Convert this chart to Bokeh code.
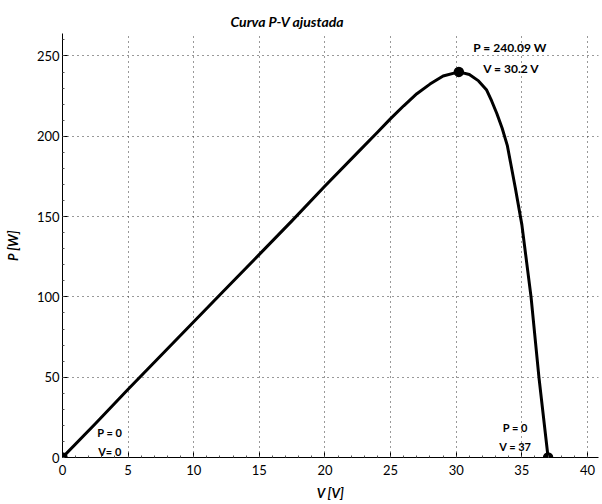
from bokeh.plotting import figure
from bokeh.models import Range1d, Label, FixedTicker
from bokeh.embed import file_html
from bokeh.resources import INLINE

# ---- data ----
V = [0, 2.5, 5, 7.5, 10, 12.5, 15, 17.5, 20, 22.5, 24, 25, 26, 27, 28, 29,
     30.2, 31, 31.7, 32.3, 32.7, 33.1, 33.5, 33.9, 34.5, 35, 35.7, 36.3, 37]
P = [0, 21, 42.5, 63.5, 84.5, 105.5, 126.5, 147.5, 169, 190, 202.5, 211, 219, 226.5, 232.5, 237.5,
     240.09, 238.5, 234.5, 229, 222, 214, 205, 194, 168, 145, 100, 50, 0]

mark_V = [0, 30.2, 37]
mark_P = [0, 240.09, 0]

x_ticks = [0, 5, 10, 15, 20, 25, 30, 35, 40]
y_ticks = [0, 50, 100, 150, 200, 250]

FONT = "Lato"

p = figure(width=600, height=503, output_backend="svg", toolbar_location=None,
           x_range=Range1d(0, 40.84), y_range=Range1d(0, 264),
           min_border_left=62, min_border_right=2, min_border_top=33,
           min_border_bottom=46)
p.outline_line_color = None
p.background_fill_color = "white"
p.border_fill_color = "white"

p.title.text = "Curva P-V ajustada"
p.title.text_font = FONT
p.title.text_font_style = "bold italic"
p.title.text_font_size = "14px"
p.title.text_color = "black"
p.title.align = "left"
p.title.offset = 168
p.title.standoff = 7

for ax in (p.xaxis[0], p.yaxis[0]):
    ax.axis_line_color = "black"
    ax.axis_line_width = 1
    ax.major_tick_in = 5
    ax.major_tick_out = 0
    ax.minor_tick_in = 2
    ax.minor_tick_out = 0
    ax.major_tick_line_color = "black"
    ax.minor_tick_line_color = "#555555"
    ax.major_label_text_font = FONT
    ax.major_label_text_font_size = "13px"
    ax.major_label_text_color = "black"
    ax.axis_label_text_font = FONT
    ax.axis_label_text_font_style = "bold italic"
    ax.axis_label_text_font_size = "13px"
    ax.axis_label_text_color = "black"

p.xaxis.ticker = FixedTicker(ticks=x_ticks, minor_ticks=[i * 1.0 for i in range(0, 41)])
p.yaxis.ticker = FixedTicker(ticks=y_ticks, minor_ticks=[i * 10.0 for i in range(0, 27)])
p.xaxis.axis_label = "V [V]"
p.yaxis.axis_label = "P [W]"
p.xaxis.major_label_standoff = 7
p.xaxis.axis_label_standoff = 7
p.yaxis.major_label_standoff = 3
p.yaxis.axis_label_standoff = 13

p.grid.grid_line_color = "#333333"
p.grid.grid_line_dash = "1 4"
p.grid.grid_line_width = 1

p.line(V, P, line_color="black", line_width=3, line_join="round")
p.scatter(mark_V, mark_P, marker="circle", size=9, fill_color="black",
          line_color="black", line_width=1.5)

# annotations derived from the marked points
pk_v, pk_p = mark_V[1], mark_P[1]
oc_v = mark_V[2]
ann = [
    (pk_v + 3.9, pk_p + 15, f"P = {pk_p} W", "12px"),
    (pk_v + 4.0, pk_p + 2, f"V = {pk_v} V", "12px"),
    (mark_V[0] + 3.6, 15.5, "P = 0", "11px"),
    (mark_V[0] + 3.6, 3.7, "V= 0", "11px"),
    (oc_v - 2.5, 18.7, "P = 0", "11px"),
    (oc_v - 2.5, 6.8, f"V = {oc_v}", "11px"),
]
for x, y, t, fs in ann:
    p.add_layout(Label(x=x, y=y, text=t, text_font=FONT, text_font_style="bold",
                       text_font_size=fs, text_align="center",
                       text_baseline="middle", text_color="black"))

open("out.html", "w").write(file_html(p, INLINE))
